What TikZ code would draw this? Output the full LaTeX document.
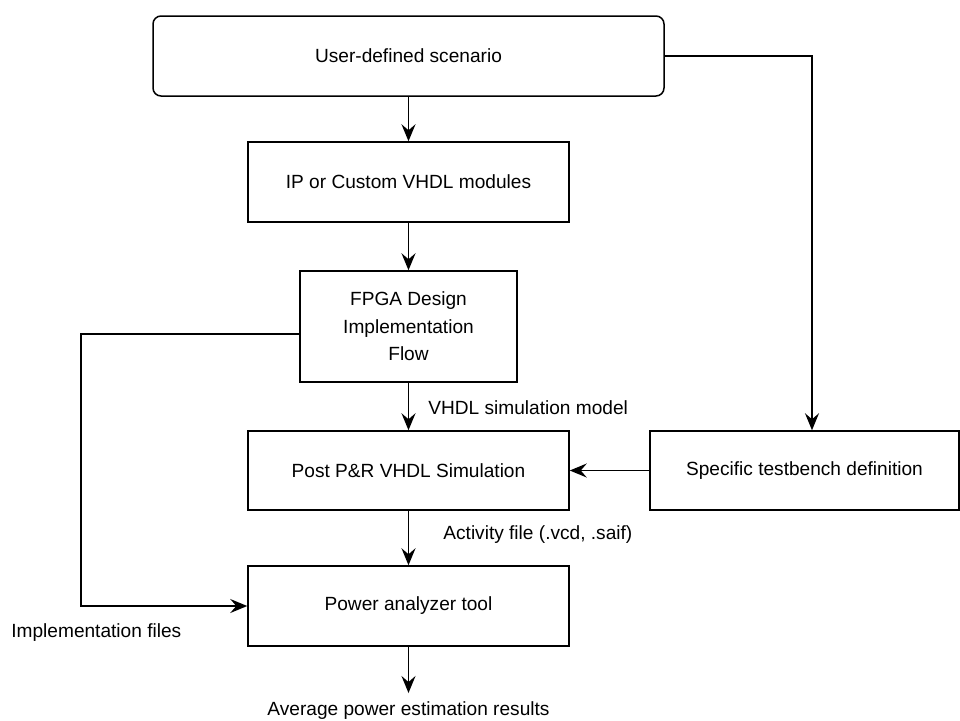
\documentclass[tikz,border=0pt]{standalone}
\usepackage{fontspec}
\setmainfont{Liberation Sans}
\usetikzlibrary{arrows.meta}
\begin{document}
\begin{tikzpicture}[x=0.5pt,y=-0.5pt,
 box/.style={draw, line width=0.75pt, inner sep=0pt, align=center, font=\fontsize{9.55}{13.75}\selectfont},
 lbl/.style={inner sep=0pt, font=\fontsize{9.55}{11}\selectfont},
 conn/.style={line width=0.75pt, -{Stealth[length=8.5pt,width=7pt,inset=3pt]}},
 plainline/.style={line width=0.75pt}]
\useasboundingbox (0,0) rectangle (960,720);
\node[box, rounded corners=4pt, minimum width=255.5pt, minimum height=40pt] (scen) at (408.5,56) {User-defined scenario};
\node[box, minimum width=160.5pt, minimum height=40pt] (ip) at (408.5,182) {IP or Custom VHDL modules};
\node[box, minimum width=108.5pt, minimum height=55.5pt] (fpga) at (408.5,326.5) {FPGA Design\\Implementation\\Flow};
\node[box, minimum width=160.5pt, minimum height=39.5pt] (post) at (408.5,470.5) {Post P\&R VHDL Simulation};
\node[box, minimum width=154.5pt, minimum height=39.5pt] (tb) at (804.5,470.5) {Specific testbench definition};
\node[box, minimum width=160.5pt, minimum height=40pt] (pow) at (408.5,606) {Power analyzer tool};
\coordinate (out) at (408.5,693);
\coordinate (c1) at (81,334);
\coordinate (c2) at (812,56);

\draw[conn] (scen) -- (ip);
\draw[conn] (ip) -- (fpga);
\draw[conn] (fpga) -- (post);
\draw[conn] (post) -- (pow);
\draw[conn] (pow) -- (out);
\draw[conn] (tb.west) -- (post.east);
\draw[conn] (scen.east) -- (c2) -- ([xshift=3.75pt]tb.north);
\draw[conn] ([yshift=-3.75pt]fpga.west) -- (c1) |- (pow.west);

\node[lbl, anchor=west] (l1) at (428,408) {VHDL simulation model};
\node[lbl, anchor=west] (l2) at (443,535) {Activity file (.vcd, .saif)};
\node[lbl, anchor=west] (l3) at (11,633) {Implementation files};
\node[lbl] (l4) at (408.5,711) {Average power estimation results};
\end{tikzpicture}
\end{document}
